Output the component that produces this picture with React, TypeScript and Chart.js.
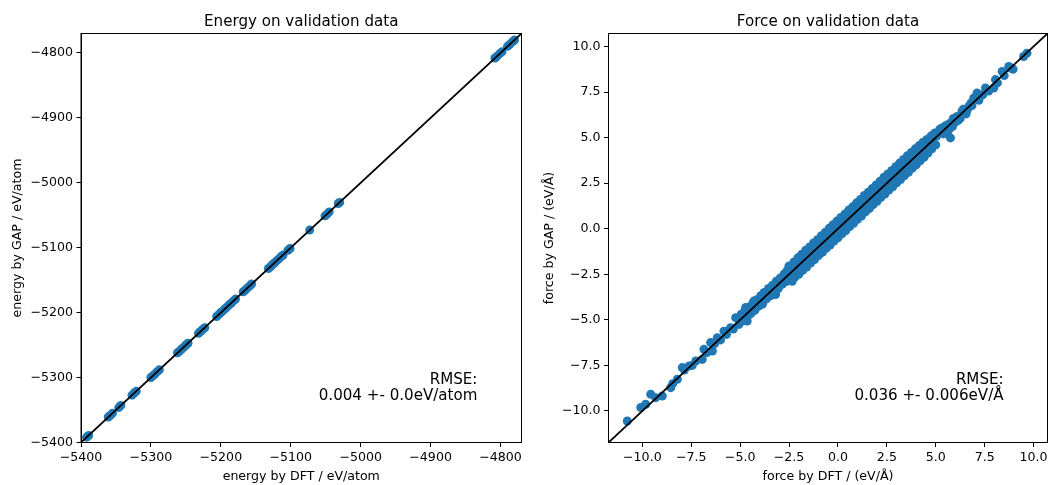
import React, { useEffect, useRef } from "react";
import { Chart, registerables } from "chart.js";

Chart.register(...registerables);

const FONT = '"DejaVu Sans", "Liberation Sans", sans-serif';
const BLUE = "#1f77b4";

// ---------- Energy panel data ----------
const energyTitle = "Energy on validation data";
const energyXLabel = "energy by DFT / eV/atom";
const energyYLabel = "energy by GAP / eV/atom";
const energyRmse = ["RMSE:", "0.004 +- 0.0eV/atom"];
const energyLimits = [-5400, -4770];
const energyTicks = [-5400, -5300, -5200, -5100, -5000, -4900, -4800];
const energyTickLabels = ["−5400", "−5300", "−5200", "−5100", "−5000", "−4900", "−4800"];
const energyDFT = [
  -5392, -5389, -5361, -5358, -5355, -5346, -5343, -5327, -5324, -5321,
  -5300, -5297, -5294, -5291, -5288, -5262, -5259, -5256, -5253, -5250,
  -5247, -5232, -5229, -5226, -5223, -5206, -5203, -5200, -5197, -5194,
  -5191, -5188, -5185, -5182, -5179, -5168, -5165, -5162, -5159, -5156,
  -5132, -5129, -5126, -5123, -5120, -5117, -5114, -5111, -5104, -5101,
  -5073, -5051, -5048, -5045, -5032, -5030, -4808, -4805, -4801, -4798,
  -4790, -4787, -4783, -4780,
];
const energyGAP = [
  -5391.8, -5389.2, -5360.7, -5358.3, -5354.8, -5346.2, -5342.9, -5327.1, -5323.8, -5321.2,
  -5299.8, -5297.1, -5294.2, -5290.9, -5288.1, -5261.8, -5259.2, -5255.9, -5253.1, -5249.8,
  -5247.2, -5231.9, -5229.1, -5225.8, -5223.2, -5205.9, -5203.1, -5199.8, -5197.2, -5193.9,
  -5191.1, -5187.8, -5185.2, -5181.9, -5179.1, -5167.8, -5165.2, -5161.9, -5159.1, -5155.8,
  -5131.9, -5129.2, -5125.8, -5123.1, -5119.9, -5117.2, -5113.8, -5111.1, -5103.9, -5101.2,
  -5072.8, -5050.9, -5048.2, -5044.8, -5031.9, -5030.2, -4807.8, -4805.1, -4800.9, -4798.2,
  -4789.8, -4787.1, -4782.9, -4780.2,
];

// ---------- Force panel data ----------
const forceTitle = "Force on validation data";
const forceXLabel = "force by DFT / (eV/Å)";
const forceYLabel = "force by GAP / (eV/Å)";
const forceRmse = ["RMSE:", "0.036 +- 0.006eV/Å"];
const forceLimits = [-11.73, 10.71];
const forceTicks = [-10, -7.5, -5, -2.5, 0, 2.5, 5, 7.5, 10];
const forceTickLabels = ["−10.0", "−7.5", "−5.0", "−2.5", "0.0", "2.5", "5.0", "7.5", "10.0"];

// low tail (sparse, strongly negative forces)
const forceTailLowDFT = [
  -10.77, -10.08, -9.83, -9.57, -9.32, -8.98, -8.55, -8.45, -8.21, -7.96,
  -7.85, -7.61, -7.45, -7.27, -6.94, -6.85, -6.7, -6.42, -6.51, -6.3,
  -6.17, -6.0, -5.83, -5.7, -5.49, -5.35, -5.23, -5.06, -4.9, -4.64,
  -4.72, -4.5, -4.3, -4.1, -3.87, -3.78, -3.6, -3.45, -3.19, -3.27,
  -3.0, -2.85, -2.7, -2.51, -2.55, -2.34,
];
const forceTailLowGAP = [
  -10.55, -9.81, -9.63, -9.08, -9.27, -9.18, -8.72, -8.5, -8.26, -7.62,
  -7.75, -7.53, -7.5, -7.26, -7.17, -6.62, -6.8, -6.71, -6.25, -6.3,
  -5.98, -6.1, -5.62, -5.8, -5.43, -5.5, -4.88, -5.25, -4.9, -5.07,
  -4.33, -4.6, -3.97, -4.25, -4.15, -3.51, -3.7, -3.3, -3.61, -3.15,
  -3.05, -2.88, -2.55, -2.05, -2.75, -2.88,
];
// mid-negative band
const forceMidUpperDFT = [-4.95, -4.75, -4.55, -4.35, -4.15, -3.95, -3.75, -3.55, -3.35, -3.15, -2.95, -2.75, -2.6];
const forceMidUpperGAP = [-4.7, -4.48, -4.3, -4.08, -3.9, -3.68, -3.5, -3.28, -3.1, -2.88, -2.7, -2.48, -2.3];
const forceMidLowerDFT = [-4.85, -4.65, -4.45, -4.25, -4.05, -3.85, -3.65, -3.45, -3.25, -3.05, -2.85, -2.65];
const forceMidLowerGAP = [-5.05, -4.88, -4.65, -4.48, -4.25, -4.08, -3.85, -3.68, -3.45, -3.28, -3.05, -2.9];
// dense core band
const forceCoreUpperDFT = [
  -2.45, -2.25, -2.05, -1.85, -1.65, -1.45, -1.25, -1.05, -0.85, -0.65,
  -0.45, -0.25, -0.05, 0.15, 0.35, 0.55, 0.75, 0.95, 1.15, 1.35,
  1.55, 1.75, 1.95, 2.15, 2.35, 2.55, 2.75, 2.95, 3.15, 3.35,
  3.55, 3.75, 3.95, 4.15, 4.35, 4.55, 4.75, 4.95,
];
const forceCoreUpperGAP = [
  -2.12, -1.82, -1.6, -1.4, -1.18, -1.0, -0.78, -0.6, -0.38, -0.2,
  0.02, 0.22, 0.42, 0.62, 0.8, 1.02, 1.2, 1.42, 1.6, 1.82,
  2.0, 2.2, 2.4, 2.6, 2.82, 3.0, 3.2, 3.4, 3.6, 3.8,
  4.0, 4.18, 4.38, 4.56, 4.75, 4.9, 5.08, 5.25,
];
const forceCoreMidDFT = [
  -2.35, -2.15, -1.95, -1.75, -1.55, -1.35, -1.15, -0.95, -0.75, -0.55,
  -0.35, -0.15, 0.05, 0.25, 0.45, 0.65, 0.85, 1.05, 1.25, 1.45,
  1.65, 1.85, 2.05, 2.25, 2.45, 2.65, 2.85, 3.05, 3.25, 3.45,
  3.65, 3.85, 4.05, 4.25, 4.45, 4.65, 4.85, 5.05,
];
const forceCoreMidGAP = [
  -2.35, -2.12, -1.97, -1.72, -1.57, -1.32, -1.17, -0.92, -0.77, -0.52,
  -0.37, -0.12, 0.03, 0.28, 0.43, 0.68, 0.83, 1.08, 1.23, 1.48,
  1.63, 1.88, 2.03, 2.28, 2.43, 2.68, 2.83, 3.08, 3.23, 3.48,
  3.63, 3.88, 4.03, 4.28, 4.43, 4.68, 4.83, 5.08,
];
const forceCoreLowerDFT = [
  -2.4, -2.2, -2.0, -1.8, -1.6, -1.4, -1.2, -1.0, -0.8, -0.6,
  -0.4, -0.2, 0.0, 0.2, 0.4, 0.6, 0.8, 1.0, 1.2, 1.4,
  1.6, 1.8, 2.0, 2.2, 2.4, 2.6, 2.8, 3.0, 3.2, 3.4,
  3.6, 3.8, 4.0, 4.2, 4.4, 4.6, 4.8, 5.0,
];
const forceCoreLowerGAP = [
  -2.8, -2.66, -2.5, -2.28, -2.1, -1.88, -1.7, -1.48, -1.3, -1.08,
  -0.9, -0.68, -0.5, -0.28, -0.1, 0.12, 0.3, 0.52, 0.7, 0.92,
  1.1, 1.32, 1.5, 1.72, 1.9, 2.12, 2.3, 2.52, 2.7, 2.92,
  3.1, 3.32, 3.5, 3.72, 3.92, 4.15, 4.38, 4.6,
];
// high tail (sparse, strongly positive forces)
const forceTailHighDFT = [
  5.2, 5.32, 5.4, 5.5, 5.6, 5.65, 5.75, 5.75, 5.85, 5.9,
  6.0, 6.09, 6.15, 6.25, 6.34, 6.4, 6.5, 6.55, 6.6, 6.69,
  6.8, 6.85, 6.94, 7.11, 7.2, 7.4, 7.54, 7.7, 7.96, 8.05,
  8.15, 8.39, 8.5, 8.73, 8.82, 8.95, 9.49, 9.66,
];
const forceTailHighGAP = [
  5.45, 5.53, 5.2, 5.65, 5.7, 5.4, 5.8, 4.98, 5.6, 6.05,
  5.85, 6.16, 5.95, 6.05, 6.44, 6.55, 6.4, 6.3, 6.5, 6.71,
  6.9, 6.75, 7.17, 7.45, 7.05, 7.35, 7.72, 7.55, 7.72, 8.18,
  8.0, 8.63, 8.4, 8.9, 8.82, 8.75, 9.45, 9.63,
];

const forceDFT = [
  ...forceTailLowDFT, ...forceMidUpperDFT, ...forceMidLowerDFT,
  ...forceCoreUpperDFT, ...forceCoreMidDFT, ...forceCoreLowerDFT, ...forceTailHighDFT,
];
const forceGAP = [
  ...forceTailLowGAP, ...forceMidUpperGAP, ...forceMidLowerGAP,
  ...forceCoreUpperGAP, ...forceCoreMidGAP, ...forceCoreLowerGAP, ...forceTailHighGAP,
];

type PanelSpec = {
  title: string;
  xLabel: string;
  yLabel: string;
  rmse: string[];
  limits: number[];
  ticks: number[];
  tickLabels: string[];
  xs: number[];
  ys: number[];
  yAxisWidth: number;
  padRight: number;
  yLabelX: number;
};

const PLOT_TOP = 33.5;
const X_AXIS_HEIGHT = 42.5;
const SMALL = 12.6;
const LARGE = 15.1;

function decorPlugin(spec: PanelSpec) {
  return {
    id: "decor",
    afterDraw(chart: any) {
      const { ctx, chartArea: a } = chart;
      ctx.save();
      ctx.strokeStyle = "#000";
      ctx.lineWidth = 1;
      ctx.strokeRect(a.left, a.top, a.right - a.left, a.bottom - a.top);
      ctx.fillStyle = "#000";
      ctx.font = `${LARGE}px ${FONT}`;
      ctx.textAlign = "center";
      ctx.textBaseline = "alphabetic";
      ctx.fillText(spec.title, (a.left + a.right) / 2, 26);
      ctx.font = `${SMALL}px ${FONT}`;
      ctx.fillText(spec.xLabel, (a.left + a.right) / 2, 479.5);
      ctx.save();
      ctx.translate(spec.yLabelX, (a.top + a.bottom) / 2);
      ctx.rotate(-Math.PI / 2);
      ctx.fillText(spec.yLabel, 0, 0);
      ctx.restore();
      ctx.font = `${LARGE}px ${FONT}`;
      ctx.textAlign = "right";
      const rx = a.left + 0.9 * (a.right - a.left);
      ctx.fillText(spec.rmse[0], rx, 383.5);
      ctx.fillText(spec.rmse[1], rx, 399.5);
      ctx.restore();
    },
  };
}

function makeConfig(spec: PanelSpec): any {
  const axisCommon = (isX: boolean) => ({
    type: "linear",
    min: spec.limits[0],
    max: spec.limits[1],
    afterBuildTicks: (scale: any) => {
      scale.ticks = spec.ticks.map((v) => ({ value: v }));
    },
    afterFit: (scale: any) => {
      if (isX) scale.height = X_AXIS_HEIGHT;
      else scale.width = spec.yAxisWidth;
    },
    grid: {
      display: true,
      drawOnChartArea: false,
      drawTicks: true,
      tickLength: 4.5,
      tickWidth: 1,
      tickColor: "#000",
    },
    border: { display: true, color: "#000", width: 1 },
    ticks: {
      color: "#000",
      font: { family: FONT, size: SMALL },
      padding: isX ? 3 : 3.5,
      autoSkip: false,
      maxRotation: 0,
      minRotation: 0,
      callback: (_v: any, i: number) => spec.tickLabels[i],
    },
  });
  return {
    type: "scatter",
    data: {
      datasets: [
        {
          type: "line",
          data: [
            { x: spec.limits[0], y: spec.limits[0] },
            { x: spec.limits[1], y: spec.limits[1] },
          ],
          borderColor: "#000",
          borderWidth: 1.8,
          pointRadius: 0,
          fill: false,
        },
        {
          type: "scatter",
          data: spec.xs.map((x, i) => ({ x, y: spec.ys[i] })),
          backgroundColor: BLUE,
          borderColor: BLUE,
          borderWidth: 0,
          pointRadius: 4.5,
          pointHoverRadius: 4.5,
        },
      ],
    },
    options: {
      responsive: false,
      animation: false,
      events: [],
      layout: { padding: { left: 0, top: PLOT_TOP, right: spec.padRight, bottom: 0 } },
      plugins: { legend: { display: false }, tooltip: { enabled: false }, title: { display: false } },
      scales: { x: axisCommon(true), y: axisCommon(false) },
    },
    plugins: [decorPlugin(spec)],
  };
}

const energySpec: PanelSpec = {
  title: energyTitle,
  xLabel: energyXLabel,
  yLabel: energyYLabel,
  rmse: energyRmse,
  limits: energyLimits,
  ticks: energyTicks,
  tickLabels: energyTickLabels,
  xs: energyDFT,
  ys: energyGAP,
  yAxisWidth: 81,
  padRight: 8.5,
  yLabelX: 21,
};

const forceSpec: PanelSpec = {
  title: forceTitle,
  xLabel: forceXLabel,
  yLabel: forceYLabel,
  rmse: forceRmse,
  limits: forceLimits,
  ticks: forceTicks,
  tickLabels: forceTickLabels,
  xs: forceDFT,
  ys: forceGAP,
  yAxisWidth: 78.5,
  padRight: 3.5,
  yLabelX: 23,
};

function Panel({ spec, width, left }: { spec: PanelSpec; width: number; left: number }) {
  const ref = useRef<HTMLCanvasElement | null>(null);
  useEffect(() => {
    if (!ref.current) return;
    const chart = new Chart(ref.current, makeConfig(spec));
    return () => chart.destroy();
  }, [spec]);
  return (
    <canvas
      ref={ref}
      width={width}
      height={485}
      style={{ position: "absolute", left, top: 0, width, height: 485 }}
    />
  );
}

export default function App() {
  return (
    <div style={{ position: "absolute", left: 0, top: 0, width: 1052, height: 485, background: "#fff" }}>
      <Panel spec={energySpec} width={530} left={0} />
      <Panel spec={forceSpec} width={522} left={530} />
    </div>
  );
}
